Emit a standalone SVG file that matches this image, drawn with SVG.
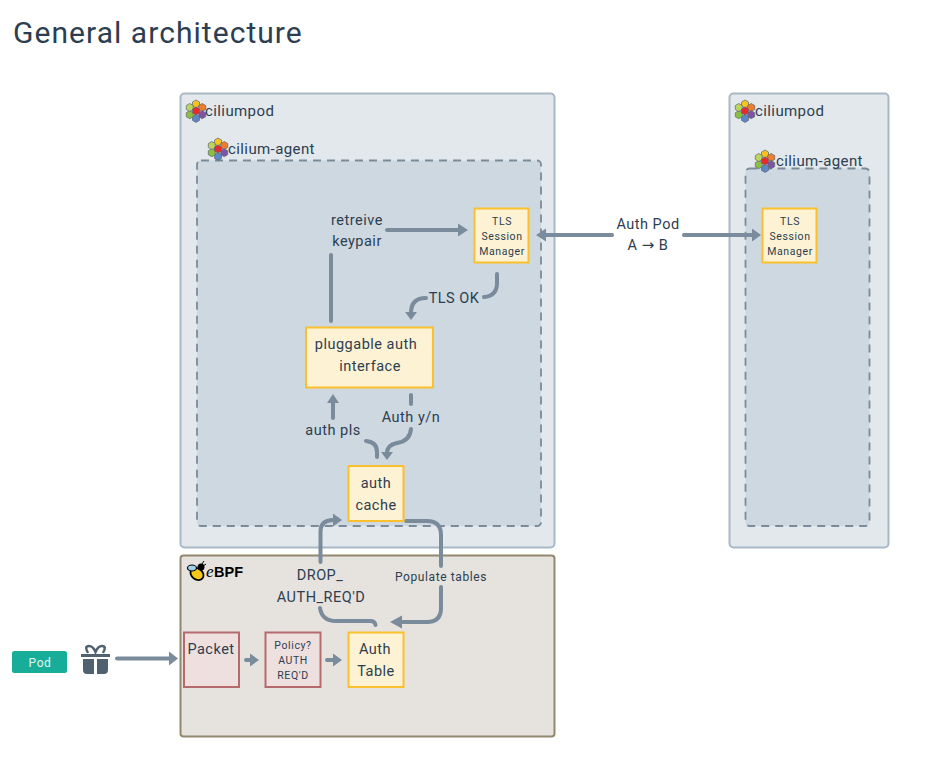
<svg xmlns="http://www.w3.org/2000/svg" width="927" height="778" viewBox="0 0 927 778">
<style>
text{font-family:"Roboto","Liberation Sans",sans-serif;fill:#2c3e50;text-anchor:middle}
.pod{fill:#e3e8ec;stroke:#a9b8c6;stroke-width:2}
.agent{fill:#ced8e1;stroke:#7b8b9a;stroke-width:1.800;stroke-dasharray:8 6}
.y{fill:#fdf2d3;stroke:#fbc02d;stroke-width:2}
.r{fill:#efe0e0;stroke:#b56a6d;stroke-width:2}
.c{fill:none;stroke:#7a8b9b;stroke-width:4;stroke-linecap:round}
.h{fill:#7a8b9b}
.t14{font-size:14.500px;letter-spacing:.5px}
.t11{font-size:10.500px;letter-spacing:.6px}
.lbl{text-anchor:start;font-size:15px;letter-spacing:.4px}
.l{text-anchor:start}
.hx{stroke:#5a6470;stroke-width:.7}
</style>
<defs>
<polygon id="h1" points="0,-4 3.500,-2 3.500,2 0,4 -3.500,2 -3.500,-2"/>
<g id="hex">
<use href="#h1" class="hx" y="-7" fill="#f9c31e"/>
<use href="#h1" class="hx" x="6.200" y="-3.500" fill="#ef7d2b"/>
<use href="#h1" class="hx" x="6.200" y="3.700" fill="#7d55a5"/>
<use href="#h1" class="hx" y="7.400" fill="#5d87c6"/>
<use href="#h1" class="hx" x="-6.200" y="3.700" fill="#8cbf3f"/>
<use href="#h1" class="hx" x="-6.200" y="-3.500" fill="#bcd55c"/>
<use href="#h1" class="hx" fill="#ea2a2a"/>
</g>
</defs>
<rect width="927" height="778" fill="#fff"/>
<text id="title" x="13" y="43" class="l" style="font-size:30px;letter-spacing:1.05px">General architecture</text>

<g id="pod-a">
<rect class="pod" x="180.500" y="93.500" width="374" height="454" rx="4"/>
<use href="#hex" x="196" y="111"/>
<text class="lbl" x="205" y="116">ciliumpod</text>
</g>
<g id="agent-a">
<rect class="agent" x="197" y="160.500" width="344" height="365.500" rx="4"/>
<use href="#hex" x="218" y="149"/>
<text class="lbl" x="228" y="154">cilium-agent</text>
</g>
<g id="pod-b">
<rect class="pod" x="729.500" y="93.500" width="159" height="454" rx="4"/>
<use href="#hex" x="745" y="111"/>
<text class="lbl" x="755" y="116">ciliumpod</text>
</g>
<g id="agent-b">
<rect class="agent" x="745.500" y="168.500" width="124" height="357.500" rx="4"/>
<use href="#hex" x="765" y="161"/>
<text class="lbl" x="776" y="166">cilium-agent</text>
</g>
<g id="ebpf">
<rect x="180.500" y="555.500" width="374" height="181" rx="3" fill="#e6e3de" stroke="#92876f" stroke-width="2"/>
<g id="bee">
<ellipse cx="197" cy="574" rx="7" ry="5.500" fill="#f6c915" stroke="#000" stroke-width="1.800" transform="rotate(35 197 574)"/>
<ellipse cx="192" cy="568" rx="4.500" ry="3" fill="#9fd0ee" stroke="#000" stroke-width="1.200"/>
<circle cx="201" cy="567" r="3.500" fill="#000"/>
<path d="M202 564L204 561M203 566L206 564" stroke="#000" stroke-width="1"/>
</g>
<text class="l" x="206" y="577" style="font-family:'Liberation Serif',serif;font-style:italic;font-size:17px;fill:#000">e</text>
<text class="l" x="214" y="577" style="font-family:'Liberation Sans',sans-serif;font-weight:700;font-size:14.500px;fill:#000">BPF</text>
</g>

<g id="connectors">
<path class="c" d="M331 255V321M387 230H462"/>
<path class="h" d="M458 223.500L468 230L458 236.500Z"/>
<path class="c" d="M497 274V283Q497 296 484 297M426 298Q411 298 411 313"/>
<path class="h" d="M405 312H417L411 320Z"/>
<path class="c" d="M333 418V400"/>
<path class="h" d="M327 403L333 394L339 403Z"/>
<path class="c" d="M366 441Q377 442 377 452V457"/>
<path class="c" d="M411 395V404M411 429Q410 441 397 443Q387 445 387 453"/>
<path class="h" d="M381 452H393L387 460Z"/>
<path class="c" d="M320.500 562V532Q320.500 520 333 520H336"/>
<path class="h" d="M333 513.500L342 520L333 526.500Z"/>
<path class="c" d="M406 521H427Q441 521 441 535V566M441 587V608Q441 622 427 622H398"/>
<path class="h" d="M402 615.500L390 622L402 628.500Z"/>
<path class="c" d="M320 608Q322 621 336 621H370Q375 621 375.500 625"/>
<path class="c" d="M246 660H254M327 660H336"/>
<path class="h" d="M250 653.500L259 660L250 666.500ZM333 653.500L342 660L333 666.500Z"/>
<path class="c" d="M117 658.500H172"/>
<path class="h" d="M169 651.500L178 658.500L169 665.500Z"/>
<path class="c" d="M541 235H612M684 235H754"/>
<path class="h" d="M546 228.500L536 235L546 241.500ZM752 228.500L761 235L752 241.500Z"/>
</g>

<g id="retrieve"><text class="t14" x="357" y="225">retreive</text><text class="t14" x="357" y="246">keypair</text></g>
<g id="tls-ok"><text class="t14" x="454" y="303">TLS OK</text></g>
<g id="auth-pls"><text class="t14" x="333" y="435">auth pls</text></g>
<g id="auth-yn"><text class="t14" x="411" y="422">Auth y/n</text></g>
<g id="drop"><text class="t14" x="320" y="580">DROP_</text><text class="t14" x="321" y="602">AUTH_REQ'D</text></g>
<g id="populate"><text x="441" y="581" style="font-size:12px;letter-spacing:.6px">Populate tables</text></g>
<g id="auth-pod"><text class="t14" x="648" y="229">Auth Pod</text><text class="t14" x="648" y="250">A <tspan style="font-family:'DejaVu Sans',sans-serif;font-size:15px">→</tspan> B</text></g>

<g id="tls-a">
<rect class="y" x="474.500" y="208.500" width="54" height="54"/>
<text class="t11" x="502" y="225">TLS</text><text class="t11" x="502" y="240">Session</text><text class="t11" x="502" y="255">Manager</text>
</g>
<g id="tls-b">
<rect class="y" x="762.500" y="208.500" width="54" height="54"/>
<text class="t11" x="790" y="225">TLS</text><text class="t11" x="790" y="240">Session</text><text class="t11" x="790" y="255">Manager</text>
</g>
<g id="pluggable">
<rect class="y" x="306" y="327.500" width="127" height="60"/>
<text class="t14" x="366" y="349">pluggable auth</text><text class="t14" x="370" y="371">interface</text>
</g>
<g id="auth-cache">
<rect class="y" x="348.500" y="466" width="55" height="55"/>
<text class="t14" x="376" y="488">auth</text><text class="t14" x="376" y="510">cache</text>
</g>
<g id="packet">
<rect class="r" x="184" y="632.500" width="55" height="54.500"/>
<text class="t14" x="211" y="654">Packet</text>
</g>
<g id="policy">
<rect class="r" x="265.500" y="632.500" width="55" height="54.500"/>
<text class="t11" x="293" y="649">Policy?</text><text class="t11" x="293" y="664">AUTH</text><text class="t11" x="293" y="679">REQ'D</text>
</g>
<g id="auth-table">
<rect class="y" x="348.500" y="632.500" width="55" height="54.500"/>
<text class="t14" x="375" y="654">Auth</text><text class="t14" x="376" y="676">Table</text>
</g>
<g id="pod-chip">
<rect x="12" y="651" width="55" height="22" rx="2.500" fill="#17ad98"/>
<text x="40" y="667" style="font-size:12px;letter-spacing:.6px;fill:#e3f5f1">Pod</text>
</g>
<g id="gift" fill="#4f6272">
<path d="M81 654H110V657H81Z"/>
<path d="M83 659H94V674H87Q83 674 83 670ZM97 659H108V670Q108 674 104 674H97Z"/>
<path d="M88 653Q84 646 89 646Q93 646 95.500 652Q98 646 102 646Q107 646 103 653" fill="none" stroke="#4f6272" stroke-width="2.500"/>
</g>
</svg>
